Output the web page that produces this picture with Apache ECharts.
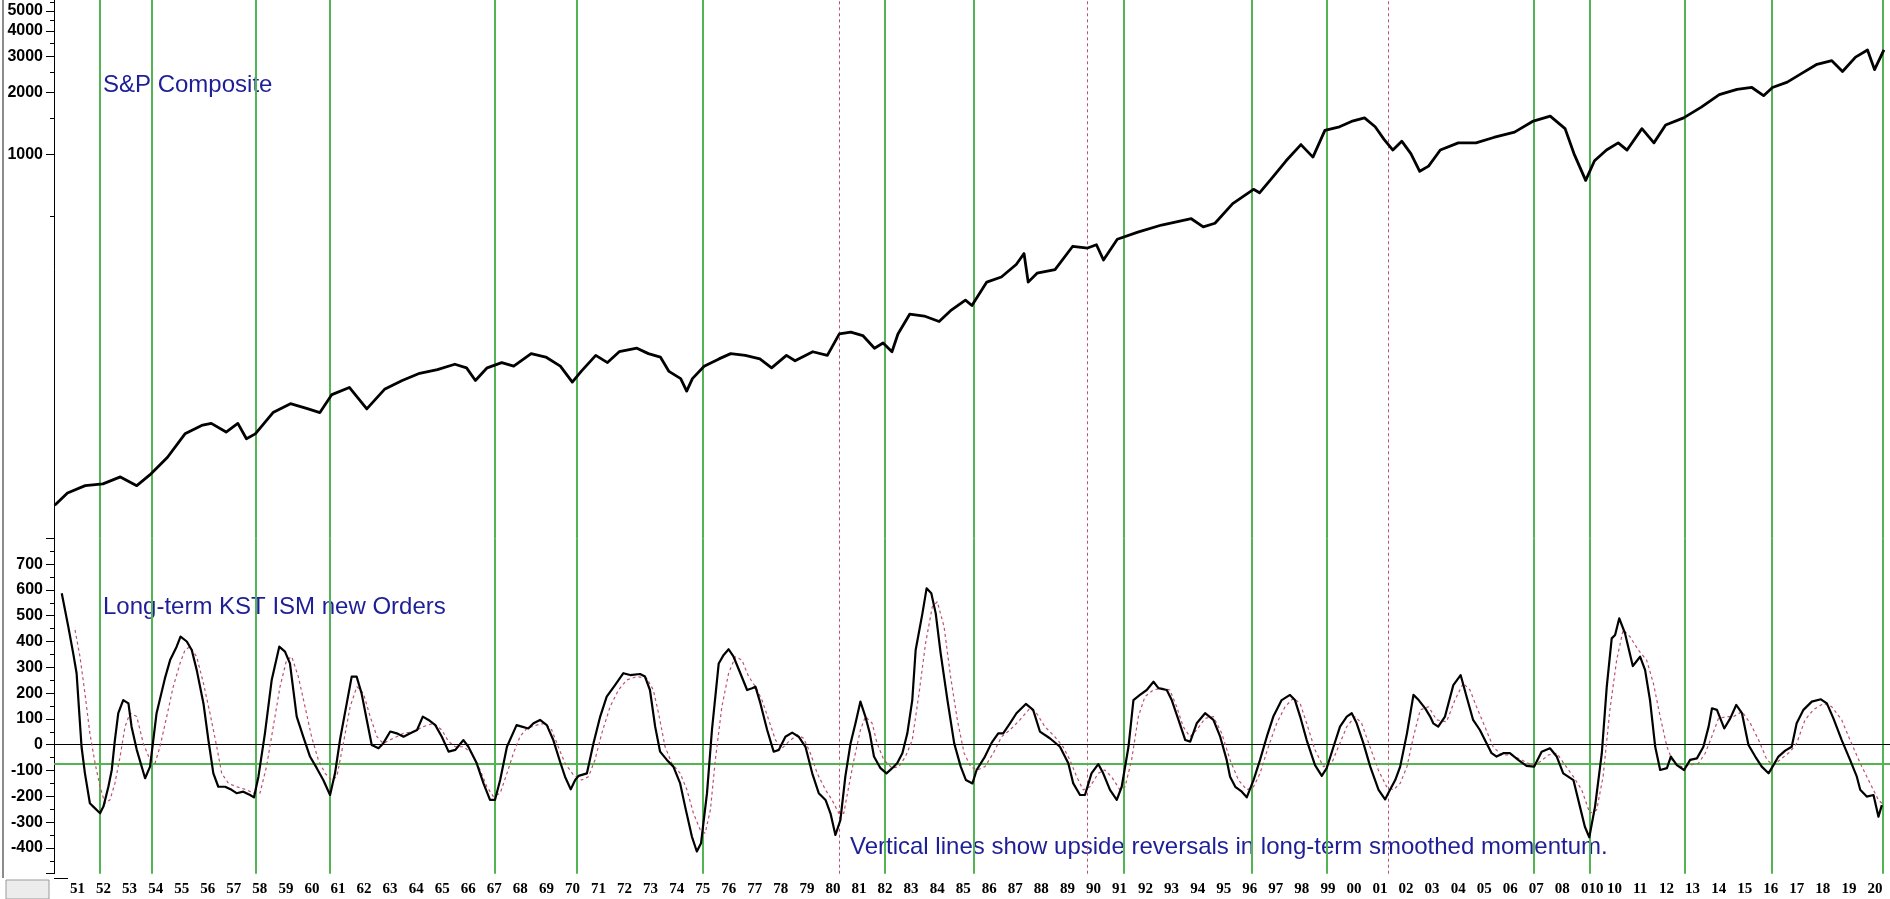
<!DOCTYPE html>
<html><head><meta charset="utf-8">
<script src="https://cdn.jsdelivr.net/npm/echarts@6/dist/echarts.min.js"></script>
<style>html,body{margin:0;padding:0;background:#fff;}#c{width:1890px;height:899px;}</style>
</head><body><div id="c"></div>
<script>
// ---- data ----
const yearLabels = ['51','52','53','54','55','56','57','58','59','60','61','62','63','64','65','66','67','68','69','70','71','72','73','74','75','76','77','78','79','80','81','82','83','84','85','86','87','88','89','90','91','92','93','94','95','96','97','98','99','00','01','02','03','04','05','06','07','08','010','10','11','12','13','14','15','16','17','18','19','20'];
const spLabelValues = [1000,2000,3000,4000,5000];
const spMinorTickValues = [500,1500,2500,3500,4500,5500];
const kstLabelHidden = [800,-500];
const greenSignals = [1952.23,1954.22,1958.22,1961.06,1967.39,1970.54,1975.38,1982.36,1985.78,1991.54,1996.45,1999.33,2007.28,2009.43,2013.07,2016.41,2020.67];
const redSignals = [1980.61,1990.13,2001.70];
const zeroLevel = 0;
const triggerLevel = -75;

const sp = [[1950.49,19.4],[1950.98,22.3],[1951.66,24.2],[1952.34,24.7],[1953.01,26.7],[1953.64,24.2],[1954.14,27.3],[1954.82,33.3],[1955.49,43.3],[1956.17,47.8],[1956.5,48.7],[1957.07,44.2],[1957.52,48.7],[1957.85,41],[1958.19,43.3],[1958.87,55],[1959.54,60.8],[1960.22,57.3],[1960.67,55],[1961.13,67.3],[1961.8,72.9],[1962.47,57.3],[1963.15,71.4],[1963.83,78.9],[1964.5,85.5],[1965.18,89.1],[1965.85,94.6],[1966.3,90.9],[1966.64,78.9],[1967.09,90.9],[1967.65,96.4],[1968.11,92.6],[1968.78,106.6],[1969.34,102.6],[1969.9,92.6],[1970.36,77.4],[1970.7,87.3],[1971.26,104.5],[1971.71,96.4],[1972.16,108.9],[1972.84,113.3],[1973.28,106.6],[1973.74,102.6],[1974.07,87.3],[1974.52,80.5],[1974.75,70],[1974.97,80.5],[1975.42,92.6],[1975.99,100.5],[1976.44,106.6],[1977.0,104.5],[1977.56,100.5],[1978.01,90.9],[1978.58,104.5],[1978.91,98.4],[1979.59,108.9],[1980.15,104.5],[1980.61,133],[1981.05,135.8],[1981.51,130.6],[1981.96,113.3],[1982.29,120.2],[1982.63,108.9],[1982.86,133],[1983.31,166],[1983.87,162.6],[1984.44,153],[1984.88,172.6],[1985.45,194.4],[1985.7,183],[1986.27,238],[1986.83,252],[1987.4,290],[1987.7,328],[1987.86,238],[1988.2,263],[1988.89,274],[1989.57,356],[1990.14,349],[1990.48,362],[1990.75,305],[1991.28,385],[1992.07,417],[1992.98,452],[1994.12,485],[1994.58,443],[1995.03,461],[1995.71,575],[1996.51,675],[1996.74,649],[1997.2,761],[1997.76,930],[1998.33,1115],[1998.79,969],[1999.25,1309],[1999.81,1362],[2000.27,1446],[2000.77,1505],[2001.18,1362],[2001.52,1183],[2001.86,1049],[2002.2,1159],[2002.55,1008],[2002.89,826],[2003.23,876],[2003.68,1049],[2004.37,1137],[2005.05,1137],[2005.73,1208],[2006.53,1283],[2007.22,1446],[2007.9,1536],[2008.47,1334],[2008.81,1008],[2009.26,746],[2009.6,930],[2010.06,1049],[2010.51,1137],[2010.85,1049],[2011.42,1334],[2011.88,1137],[2012.33,1390],[2013.02,1505],[2013.7,1699],[2014.39,1954],[2015.07,2075],[2015.64,2118],[2016.09,1932],[2016.43,2118],[2017.0,2250],[2017.57,2488],[2018.14,2748],[2018.71,2862],[2019.12,2536],[2019.62,2979],[2020.08,3228],[2020.35,2588],[2020.71,3228]];

const kst = [[1950.76,587],[1951.01,458],[1951.2,354],[1951.33,277],[1951.52,-8],[1951.65,-111],[1951.84,-227],[1951.97,-240],[1952.23,-266],[1952.36,-240],[1952.55,-163],[1952.68,-98],[1952.8,18],[1952.93,122],[1953.12,173],[1953.32,160],[1953.44,70],[1953.64,-20],[1953.96,-130],[1954.15,-85],[1954.4,122],[1954.72,257],[1954.92,328],[1955.17,380],[1955.32,419],[1955.56,400],[1955.75,367],[1955.94,290],[1956.2,160],[1956.39,18],[1956.58,-111],[1956.77,-163],[1957.03,-163],[1957.28,-175],[1957.47,-188],[1957.73,-182],[1957.99,-195],[1958.14,-204],[1958.31,-124],[1958.56,44],[1958.82,251],[1959.11,380],[1959.33,361],[1959.52,315],[1959.78,109],[1960.03,31],[1960.29,-46],[1960.55,-91],[1960.8,-137],[1961.06,-195],[1961.25,-111],[1961.44,18],[1961.7,160],[1961.89,264],[1962.08,264],[1962.27,199],[1962.47,96],[1962.66,-1],[1962.92,-14],[1963.1,5],[1963.37,51],[1963.62,44],[1963.88,31],[1964.14,44],[1964.4,57],[1964.62,109],[1964.84,96],[1965.1,76],[1965.35,31],[1965.61,-27],[1965.87,-20],[1966.18,18],[1966.37,-8],[1966.69,-72],[1966.95,-150],[1967.2,-214],[1967.39,-214],[1967.59,-137],[1967.85,-8],[1968.22,76],[1968.42,70],[1968.67,63],[1968.87,83],[1969.12,96],[1969.38,76],[1969.63,18],[1969.89,-66],[1970.08,-124],[1970.3,-173],[1970.47,-137],[1970.6,-121],[1970.92,-111],[1971.17,5],[1971.43,109],[1971.68,186],[1972.0,231],[1972.32,277],[1972.58,270],[1972.96,274],[1973.15,264],[1973.34,212],[1973.54,70],[1973.73,-27],[1973.99,-59],[1974.24,-85],[1974.5,-150],[1974.69,-240],[1974.95,-356],[1975.14,-414],[1975.3,-382],[1975.53,-188],[1975.72,57],[1975.98,315],[1976.17,348],[1976.36,370],[1976.55,341],[1976.81,277],[1977.07,212],[1977.26,219],[1977.39,225],[1977.58,160],[1977.84,57],[1978.09,-27],[1978.29,-20],[1978.54,31],[1978.8,47],[1979.05,31],[1979.31,-8],[1979.57,-111],[1979.82,-188],[1980.08,-214],[1980.27,-266],[1980.46,-350],[1980.65,-292],[1980.84,-124],[1981.04,5],[1981.23,83],[1981.42,167],[1981.61,109],[1981.78,44],[1981.94,-46],[1982.19,-91],[1982.42,-111],[1982.64,-91],[1982.83,-72],[1983.03,-33],[1983.22,44],[1983.41,173],[1983.54,367],[1983.8,509],[1983.96,606],[1984.14,587],[1984.31,509],[1984.5,354],[1984.76,173],[1985.02,5],[1985.27,-85],[1985.47,-137],[1985.72,-150],[1985.88,-98],[1986.2,-46],[1986.46,8],[1986.71,44],[1986.9,44],[1987.16,83],[1987.41,122],[1987.77,158],[1988.05,135],[1988.31,51],[1988.69,25],[1989.08,-8],[1989.4,-72],[1989.59,-150],[1989.85,-195],[1990.04,-195],[1990.29,-111],[1990.55,-75],[1990.74,-111],[1991.0,-175],[1991.26,-214],[1991.45,-163],[1991.71,-8],[1991.9,173],[1992.15,193],[1992.41,212],[1992.67,244],[1992.86,219],[1993.18,212],[1993.37,173],[1993.63,96],[1993.89,18],[1994.08,12],[1994.33,83],[1994.65,122],[1994.97,96],[1995.23,31],[1995.48,-59],[1995.61,-124],[1995.81,-163],[1996.06,-182],[1996.25,-204],[1996.51,-137],[1996.76,-59],[1997.02,31],[1997.27,109],[1997.59,173],[1997.91,193],[1998.1,173],[1998.3,109],[1998.55,18],[1998.87,-79],[1999.13,-121],[1999.32,-91],[1999.58,-8],[1999.83,70],[2000.09,109],[2000.28,122],[2000.47,83],[2000.73,5],[2000.99,-85],[2001.31,-175],[2001.56,-212],[2001.75,-175],[2001.95,-137],[2002.14,-85],[2002.4,44],[2002.65,193],[2002.85,173],[2003.1,141],[2003.29,109],[2003.41,83],[2003.6,70],[2003.86,109],[2004.18,231],[2004.46,270],[2004.69,186],[2004.94,96],[2005.2,57],[2005.46,5],[2005.65,-33],[2005.84,-46],[2006.1,-33],[2006.35,-33],[2006.67,-59],[2006.99,-82],[2007.28,-85],[2007.57,-27],[2007.89,-14],[2008.15,-46],[2008.4,-111],[2008.79,-137],[2009.04,-240],[2009.23,-318],[2009.4,-359],[2009.62,-240],[2009.88,-33],[2010.07,225],[2010.26,412],[2010.39,425],[2010.55,490],[2010.77,432],[2011.07,305],[2011.35,341],[2011.54,290],[2011.73,173],[2011.93,-8],[2012.12,-98],[2012.38,-91],[2012.53,-46],[2012.76,-79],[2013.04,-98],[2013.27,-59],[2013.53,-53],[2013.78,-8],[2013.98,70],[2014.11,141],[2014.3,135],[2014.58,63],[2014.81,102],[2015.04,154],[2015.26,122],[2015.51,-1],[2015.77,-46],[2016.02,-85],[2016.28,-111],[2016.47,-79],[2016.66,-46],[2016.92,-23],[2017.17,-8],[2017.36,83],[2017.62,135],[2017.94,167],[2018.29,176],[2018.52,160],[2018.77,102],[2019.09,18],[2019.41,-59],[2019.67,-124],[2019.8,-175],[2020.05,-201],[2020.31,-195],[2020.5,-279],[2020.63,-234]];

const kstSignal = [[1951.27,445],[1951.46,341],[1951.65,199],[1951.84,44],[1952.04,-72],[1952.23,-163],[1952.42,-227],[1952.61,-214],[1952.8,-150],[1953.0,-46],[1953.19,70],[1953.38,122],[1953.64,109],[1953.89,5],[1954.15,-59],[1954.34,-72],[1954.53,-8],[1954.79,109],[1955.04,225],[1955.3,315],[1955.49,367],[1955.68,380],[1955.94,341],[1956.2,238],[1956.45,122],[1956.71,-8],[1956.9,-111],[1957.16,-150],[1957.47,-163],[1957.86,-175],[1958.11,-188],[1958.37,-188],[1958.62,-85],[1958.88,70],[1959.14,225],[1959.39,328],[1959.59,341],[1959.84,264],[1960.1,147],[1960.35,31],[1960.61,-59],[1960.87,-111],[1961.12,-137],[1961.32,-124],[1961.57,5],[1961.83,147],[1962.09,225],[1962.34,199],[1962.6,109],[1962.86,31],[1963.1,5],[1963.49,25],[1963.88,44],[1964.27,51],[1964.64,70],[1965.03,83],[1965.35,57],[1965.61,12],[1965.87,-8],[1966.18,-8],[1966.5,-33],[1966.82,-98],[1967.08,-163],[1967.33,-201],[1967.59,-188],[1967.85,-111],[1968.1,-33],[1968.35,31],[1968.61,63],[1968.99,76],[1969.31,83],[1969.57,57],[1969.82,-8],[1970.08,-72],[1970.4,-117],[1970.72,-137],[1970.98,-124],[1971.23,-59],[1971.49,44],[1971.81,147],[1972.13,212],[1972.45,251],[1972.83,264],[1973.22,257],[1973.47,212],[1973.67,122],[1973.92,-8],[1974.18,-72],[1974.5,-111],[1974.76,-175],[1975.01,-266],[1975.27,-330],[1975.46,-343],[1975.66,-253],[1975.85,-59],[1976.1,147],[1976.36,277],[1976.62,341],[1976.87,328],[1977.13,264],[1977.39,225],[1977.64,173],[1977.9,96],[1978.16,18],[1978.41,-14],[1978.67,12],[1978.99,38],[1979.24,25],[1979.5,-33],[1979.76,-111],[1980.08,-175],[1980.33,-214],[1980.59,-266],[1980.78,-266],[1980.97,-163],[1981.17,-59],[1981.42,57],[1981.61,109],[1981.87,83],[1982.06,5],[1982.32,-59],[1982.64,-91],[1982.9,-85],[1983.15,-46],[1983.41,18],[1983.67,199],[1983.92,393],[1984.18,535],[1984.37,554],[1984.63,458],[1984.88,264],[1985.14,96],[1985.4,-33],[1985.65,-85],[1985.91,-98],[1986.2,-85],[1986.52,-33],[1986.84,31],[1987.16,57],[1987.54,96],[1987.93,141],[1988.18,122],[1988.5,70],[1988.88,31],[1989.2,-8],[1989.46,-59],[1989.72,-124],[1989.97,-175],[1990.23,-163],[1990.55,-111],[1990.8,-98],[1991.06,-124],[1991.38,-175],[1991.58,-163],[1991.83,-59],[1992.09,109],[1992.34,186],[1992.66,212],[1992.98,219],[1993.3,212],[1993.56,147],[1993.81,70],[1994.07,31],[1994.33,57],[1994.65,102],[1994.97,109],[1995.29,44],[1995.61,-59],[1995.93,-137],[1996.25,-175],[1996.51,-163],[1996.76,-111],[1997.08,-8],[1997.4,83],[1997.72,147],[1998.04,180],[1998.3,160],[1998.55,83],[1998.87,-20],[1999.19,-85],[1999.51,-72],[1999.77,-8],[2000.09,70],[2000.41,109],[2000.66,83],[2000.98,-8],[2001.3,-98],[2001.62,-163],[2001.88,-175],[2002.14,-150],[2002.4,-85],[2002.65,31],[2002.91,135],[2003.23,147],[2003.54,96],[2003.92,89],[2004.24,173],[2004.56,238],[2004.82,212],[2005.07,147],[2005.39,70],[2005.71,-8],[2006.03,-40],[2006.42,-40],[2006.8,-59],[2007.19,-79],[2007.51,-66],[2007.83,-40],[2008.15,-33],[2008.47,-79],[2008.79,-124],[2009.11,-175],[2009.42,-266],[2009.68,-253],[2009.93,-124],[2010.19,135],[2010.45,328],[2010.7,445],[2010.96,419],[2011.28,367],[2011.6,328],[2011.86,238],[2012.12,109],[2012.38,-8],[2012.63,-72],[2012.95,-85],[2013.27,-79],[2013.59,-72],[2013.85,-33],[2014.1,31],[2014.36,102],[2014.68,109],[2014.94,109],[2015.26,128],[2015.58,83],[2015.9,18],[2016.22,-59],[2016.47,-79],[2016.79,-53],[2017.11,-27],[2017.36,5],[2017.68,96],[2018.0,135],[2018.39,160],[2018.71,147],[2019.09,96],[2019.41,18],[2019.8,-72],[2020.18,-150],[2020.5,-214],[2020.63,-227]];

// ---- chart ----
const X_MIN = 1950.4626, X_MAX = 2020.943;
const GREEN = '#52b452', RED = '#c0506a', NAVY = '#1e1e96';
const labelFont = {color:'#000', fontWeight:'bold', fontSize:16, fontFamily:'Liberation Sans, Arial, sans-serif'};

function vLines(){
  return greenSignals.map(v => ({xAxis:v, lineStyle:{color:GREEN, width:2, type:'solid'}}))
    .concat(redSignals.map(v => ({xAxis:v, lineStyle:{color:RED, width:1, type:[3,3]}})));
}
const mlBase = {silent:true, symbol:['none','none'], label:{show:false}, animation:false, z:1, emphasis:{disabled:true}};

const chart = echarts.init(document.getElementById('c'), null, {renderer:'canvas'});
chart.setOption({
  animation:false,
  backgroundColor:'#fff',
  grid:[
    {left:54, right:0, top:0, height:538.3, outerBoundsMode:'none'},
    {left:54, right:0, top:538.3, height:335.4, outerBoundsMode:'none'},
    {left:68, top:878, height:21, width:1823.5, outerBoundsMode:'none'}
  ],
  xAxis:[
    {gridIndex:0, type:'value', min:X_MIN, max:X_MAX, show:false},
    {gridIndex:1, type:'value', min:X_MIN, max:X_MAX, show:false},
    {gridIndex:2, type:'category', data:yearLabels.concat(['']), boundaryGap:false, position:'top',
     axisLine:{show:true, lineStyle:{color:'#000', width:1}},
     axisTick:{show:true, inside:true, length:21, interval:0, lineStyle:{color:'#000', width:1}},
     axisLabel:{show:true, inside:true, interval:0, margin:4, align:'left', padding:[0,0,0,2],
       color:'#000', fontWeight:'bold', fontSize:15, fontFamily:'Liberation Serif, Times New Roman, serif'},
     splitLine:{show:false}}
  ],
  yAxis:[
    {gridIndex:0, type:'log', logBase:10, min:13.4, max:5657, position:'left',
     axisLine:{show:true, lineStyle:{color:'#000', width:1}},
     axisTick:{show:true, length:8, customValues:spLabelValues, lineStyle:{color:'#000'}},
     axisLabel:Object.assign({show:true, margin:11, customValues:spLabelValues, formatter:v=>String(Math.round(v))}, labelFont),
     splitLine:{show:false}, minorTick:{show:false}},
    {gridIndex:1, type:'value', min:-500, max:800, interval:100, position:'left',
     axisLine:{show:true, lineStyle:{color:'#000', width:1}},
     axisTick:{show:true, length:8, lineStyle:{color:'#000'}},
     minorTick:{show:true, splitNumber:2, length:4, lineStyle:{color:'#000'}},
     axisLabel:Object.assign({show:true, margin:11, formatter:v => kstLabelHidden.indexOf(v) >= 0 ? '' : String(v)}, labelFont),
     splitLine:{show:false}},
    {gridIndex:0, type:'log', logBase:10, min:13.4, max:5657, position:'left', offset:0,
     axisLine:{show:false}, axisLabel:{show:false}, splitLine:{show:false},
     axisTick:{show:true, length:4, customValues:spMinorTickValues, lineStyle:{color:'#000'}}},
    {gridIndex:2, type:'value', min:0, max:1, show:false}
  ],
  series:[
    {name:'S&P Composite', type:'line', xAxisIndex:0, yAxisIndex:0, data:sp, showSymbol:false, z:5,
     lineStyle:{color:'#000', width:2.8, join:'round'},
     markLine:Object.assign({data:vLines()}, mlBase)},
    {name:'KST signal', type:'line', xAxisIndex:1, yAxisIndex:1, data:kstSignal, showSymbol:false, z:4,
     lineStyle:{color:RED, width:1.2, type:[3,3]}},
    {name:'Long-term KST ISM new Orders', type:'line', xAxisIndex:1, yAxisIndex:1, data:kst, showSymbol:false, z:5,
     lineStyle:{color:'#000', width:2.2, join:'round'},
     markLine:Object.assign({data:vLines().concat([
        {yAxis:zeroLevel, lineStyle:{color:'#000', width:1, type:'solid'}},
        {yAxis:triggerLevel, lineStyle:{color:GREEN, width:2, type:'solid'}}
     ])}, mlBase)}
  ],
  graphic:[
    {type:'text', left:103, top:73, silent:true, style:{text:'S&P Composite', fontSize:24, fontFamily:'Liberation Sans, Arial, sans-serif', fill:NAVY}},
    {type:'text', left:103, top:595, silent:true, style:{text:'Long-term KST ISM new Orders', fontSize:24, fontFamily:'Liberation Sans, Arial, sans-serif', fill:NAVY}},
    {type:'text', left:850, top:835, silent:true, style:{text:'Vertical lines show upside reversals in long-term smoothed momentum.', fontSize:24, fontFamily:'Liberation Sans, Arial, sans-serif', fill:NAVY}},
    {type:'line', silent:true, shape:{x1:3, y1:0, x2:3, y2:878}, style:{stroke:'#8c8c8c', lineWidth:2}},
    {type:'rect', silent:true, shape:{x:6, y:880, width:43, height:19}, style:{fill:'#ececec', stroke:'#9a9a9a', lineWidth:1}},
    {type:'line', silent:true, shape:{x1:54, y1:878.5, x2:68, y2:878.5}, style:{stroke:'#000', lineWidth:1}}
  ]
});
</script>
</body></html>
